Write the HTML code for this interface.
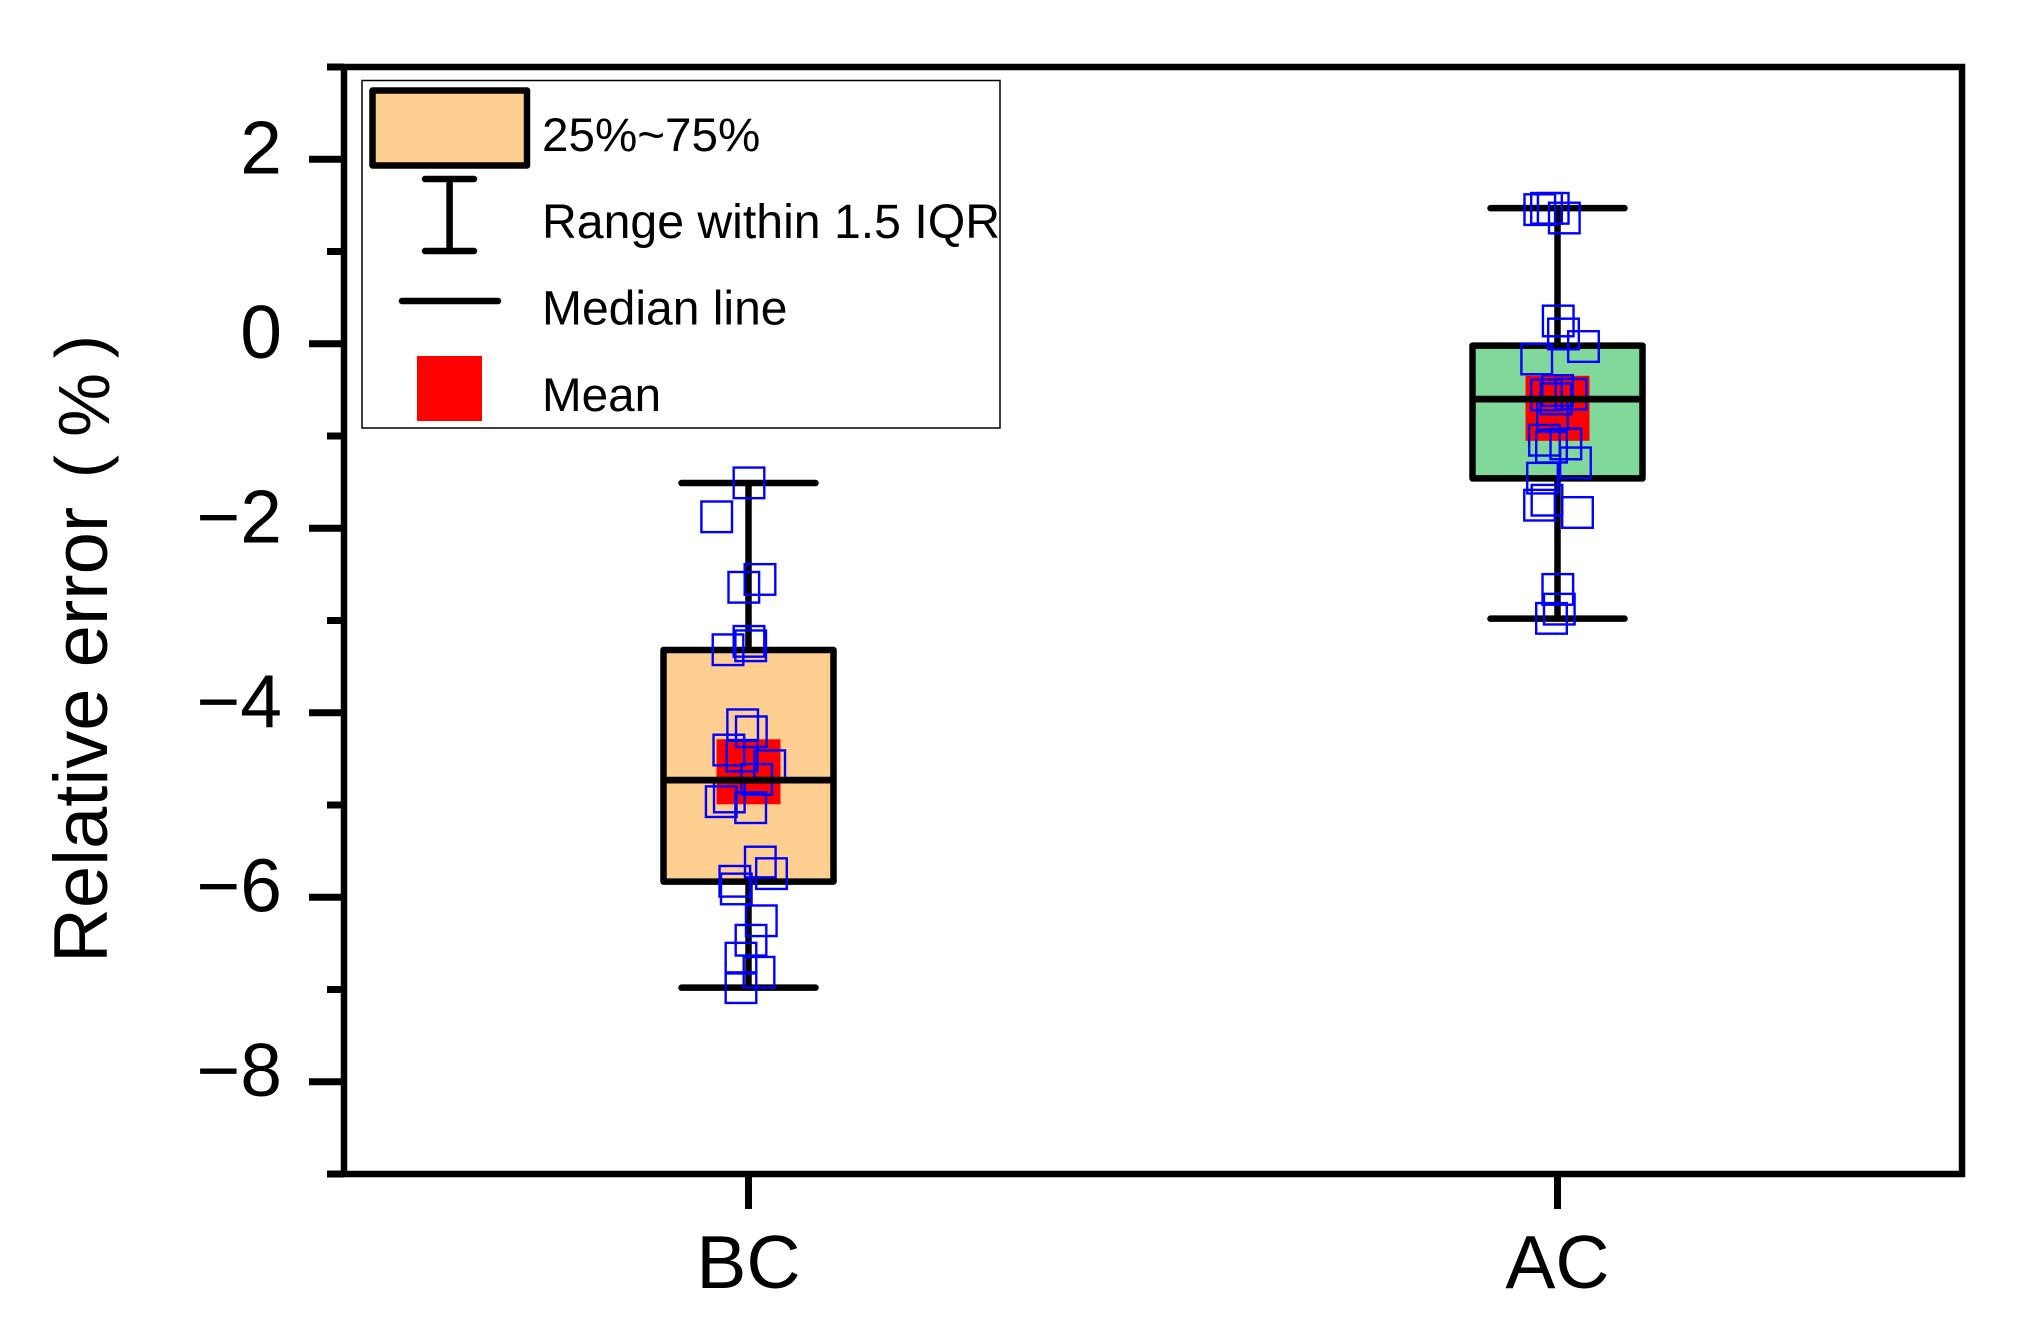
<!DOCTYPE html>
<html lang="en">
<head>
<meta charset="utf-8">
<title>Relative error box chart</title>
<style>
html,body{margin:0;padding:0;background:#fff;}
svg{display:block;font-family:"Liberation Sans","Noto Sans CJK SC",sans-serif;}
</style>
</head>
<body>
<svg id="chart" xmlns="http://www.w3.org/2000/svg" width="2028" height="1328" viewBox="0 0 2028 1328">
  <rect x="0" y="0" width="2028" height="1328" fill="#fff"/>
  <g id="marks"></g>
  <g id="axes"></g>
  <text transform="translate(107 963) rotate(-90)" font-size="76" fill="#000">Relative error<tspan x="484.8" y="-3" font-size="70">(</tspan><tspan x="526" y="2" font-size="72">%</tspan><tspan x="604.8" y="-3" font-size="70">)</tspan></text>
  <g>
    <rect x="362" y="80.5" width="638" height="347.5" fill="#fff" stroke="#000" stroke-width="1.5"/>
    <rect x="372.5" y="90.5" width="154.5" height="75" fill="#FFCF91" stroke="#000" stroke-width="6.5" stroke-linejoin="round"/>
    <text x="542" y="151" font-size="47.6" fill="#000">25%~75%</text>
    <g stroke="#000" stroke-width="6.5" stroke-linecap="round">
      <line x1="449.6" y1="179" x2="449.6" y2="251"/>
      <line x1="425" y1="179" x2="474" y2="179"/>
      <line x1="425" y1="251" x2="474" y2="251"/>
    </g>
    <text x="542" y="238" font-size="48.2" fill="#000">Range within 1.5 IQR</text>
    <line x1="402" y1="301" x2="498" y2="301" stroke="#000" stroke-width="6.5" stroke-linecap="round"/>
    <text x="542" y="324.5" font-size="48" fill="#000">Median line</text>
    <rect x="417" y="356" width="65" height="65" fill="#FF0000"/>
    <text x="542" y="411" font-size="47.6" fill="#000">Mean</text>
  </g>
</svg>
<script>
const categories = ['BC', 'AC'];
const yTickValues = [2, 0, -2, -4, -6, -8];
const yTickLabels = ['2', '0', '\u22122', '\u22124', '\u22126', '\u22128'];
const yMinorTicks = [3, 1, -1, -3, -5, -7, -9];
const whiskerHigh = [-1.51, 1.47];
const q3Values = [-3.32, -0.02];
const medianValues = [-4.73, -0.60];
const q1Values = [-5.83, -1.46];
const whiskerLow = [-6.98, -2.98];
const meanValues = [-4.64, -0.70];
const boxColors = ['#FFCF91', '#80D89A'];
const bcPoints = [-1.508,-1.876,-2.555,-2.64,-3.226,-3.274,-3.317,-4.13,-4.206,-4.404,-4.469,-4.574,-4.722,-4.913,-4.964,-5.029,-5.618,-5.744,-5.827,-5.91,-6.255,-6.466,-6.66,-6.813,-6.98];
const bcJitter = [0.0006,-0.0393,0.0142,-0.0058,0.0006,0.0027,-0.0253,-0.0072,0.0035,-0.0243,-0.008,0.0262,0.0101,-0.0237,-0.0337,0.0027,0.0146,0.0284,-0.0169,-0.0151,0.0158,0.0031,-0.0093,0.013,-0.0093];
const acPoints = [1.454,1.468,1.468,1.363,0.247,0.106,-0.03,-0.165,-0.507,-0.555,-0.547,-0.598,-0.764,-1.046,-1.086,-1.121,-1.291,-1.457,-1.696,-1.75,-1.829,-2.663,-2.877,-2.977];
const acJitter = [-0.0219,-0.0136,-0.0053,0.0084,0.0009,0.0074,0.0321,-0.0257,0,-0.0136,0.0167,-0.0019,-0.0062,-0.0161,0.0103,-0.0074,0.0222,-0.0185,-0.013,-0.0222,0.0247,0.0004,0.0022,-0.0074];

const plotLeft = 344, plotRight = 1962, plotTop = 67, plotBottom = 1174;
const xMin = 0.5, xMax = 2.5, yMin = -9, yMax = 3;
function xScale(v) { return plotLeft + (v - xMin) / (xMax - xMin) * (plotRight - plotLeft); }
function yScale(v) { return plotBottom - (v - yMin) / (yMax - yMin) * (plotBottom - plotTop); }

const NS = 'http://www.w3.org/2000/svg';
function make(tag, parent, props) {
  const el = document.createElementNS(NS, tag);
  for (const k in props) el.setAttribute(k, props[k]);
  parent.appendChild(el);
  return el;
}
const marks = document.getElementById('marks');
const axes = document.getElementById('axes');
const black = { stroke: '#000', 'stroke-width': 6.5 };
const tickStyle = { stroke: '#000', 'stroke-width': 7 };

categories.forEach(function (cat, i) {
  const key = cat.toLowerCase();
  const cx = xScale(i + 1);
  const capHalf = 67;
  const boxHalf = 85;
  const stem = make('line', marks, Object.assign({ x1: cx, x2: cx, y1: yScale(whiskerHigh[i]), y2: yScale(whiskerLow[i]) }, black));
  
  
  const capHi = make('line', marks, Object.assign({ x1: cx - capHalf, x2: cx + capHalf, y1: yScale(whiskerHigh[i]), y2: yScale(whiskerHigh[i]), 'stroke-linecap': 'round' }, black));
  
  
  const capLo = make('line', marks, Object.assign({ x1: cx - capHalf, x2: cx + capHalf, y1: yScale(whiskerLow[i]), y2: yScale(whiskerLow[i]), 'stroke-linecap': 'round' }, black));
  
  
  const box = make('rect', marks, Object.assign({ x: cx - boxHalf, width: boxHalf * 2, y: yScale(q3Values[i]), height: yScale(q1Values[i]) - yScale(q3Values[i]), fill: boxColors[i], 'stroke-linejoin': 'round' }, black));
  
  
  const mean = make('rect', marks, { x: cx - 32, width: 64, y: yScale(meanValues[i]) - 32.5, height: 65, fill: '#FF0000' });
  
  
  const pts = i === 0 ? bcPoints : acPoints;
  const jit = i === 0 ? bcJitter : acJitter;
  pts.forEach(function (v, j) {
    const px = xScale(i + 1 + jit[j]);
    const py = yScale(v);
    const pt = make('rect', marks, { x: px - 15.3, y: py - 15.3, width: 30.6, height: 30.6, fill: 'none', stroke: '#0000FF', 'stroke-width': 2.4 });
    
    
  });
  const med = make('line', marks, { x1: cx - boxHalf, x2: cx + boxHalf, y1: yScale(medianValues[i]), y2: yScale(medianValues[i]), stroke: '#000', 'stroke-width': 6.8 });
  
  
  const tick = make('line', axes, Object.assign({ x1: cx, x2: cx, y1: plotBottom, y2: 1209 }, tickStyle));
  
  
  const lab = make('text', axes, { x: cx, y: 1288, 'text-anchor': 'middle', 'font-size': 75, fill: '#000' });
  lab.textContent = cat;
  
  
});

yTickValues.forEach(function (v, i) {
  const t = make('line', axes, Object.assign({ x1: 309, x2: plotLeft, y1: yScale(v), y2: yScale(v) }, tickStyle));
  
  
  const lab = make('text', axes, { x: 282, y: yScale(v) + 14, 'text-anchor': 'end', 'font-size': 75, fill: '#000' });
  lab.textContent = yTickLabels[i];
  
  
});
yMinorTicks.forEach(function (v) {
  const t = make('line', axes, Object.assign({ x1: 327, x2: plotLeft, y1: yScale(v), y2: yScale(v) }, tickStyle));
  
  
});

const frame = make('rect', axes, { x: plotLeft, y: plotTop, width: plotRight - plotLeft, height: plotBottom - plotTop, fill: 'none', stroke: '#000', 'stroke-width': 6.5 });


</script>
</body>
</html>
